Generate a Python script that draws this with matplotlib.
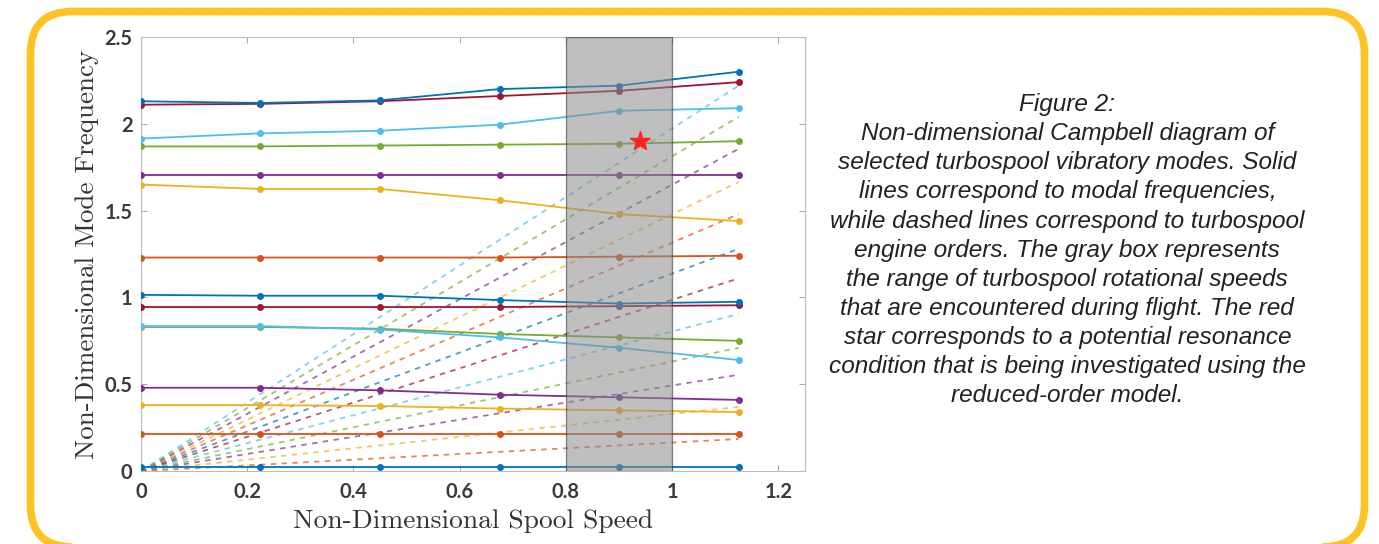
import matplotlib
matplotlib.use('Agg')
import matplotlib.pyplot as plt
from matplotlib.patches import FancyBboxPatch
from matplotlib.ticker import FormatStrFormatter

# spool speeds where modes were computed
speed = [0, 0.225, 0.45, 0.675, 0.9, 1.125]

# modal frequencies, lowest mode first
mode_01 = [0.025, 0.025, 0.025, 0.025, 0.025, 0.025]
mode_02 = [0.215, 0.215, 0.215, 0.215, 0.215, 0.215]
mode_03 = [0.38, 0.38, 0.375, 0.36, 0.35, 0.34]
mode_04 = [0.48, 0.48, 0.465, 0.44, 0.425, 0.41]
mode_05 = [0.83, 0.83, 0.82, 0.79, 0.77, 0.75]
mode_06 = [0.835, 0.835, 0.815, 0.77, 0.71, 0.64]
mode_07 = [0.945, 0.945, 0.945, 0.945, 0.95, 0.955]
mode_08 = [1.015, 1.01, 1.01, 0.985, 0.965, 0.975]
mode_09 = [1.23, 1.23, 1.23, 1.23, 1.235, 1.24]
mode_10 = [1.65, 1.625, 1.625, 1.56, 1.48, 1.44]
mode_11 = [1.705, 1.705, 1.705, 1.705, 1.705, 1.705]
mode_12 = [1.87, 1.87, 1.875, 1.88, 1.885, 1.90]
mode_13 = [1.915, 1.945, 1.96, 1.995, 2.075, 2.09]
mode_14 = [2.11, 2.115, 2.13, 2.16, 2.19, 2.24]
mode_15 = [2.13, 2.12, 2.135, 2.2, 2.22, 2.30]
modes = [mode_01, mode_02, mode_03, mode_04, mode_05, mode_06, mode_07, mode_08,
         mode_09, mode_10, mode_11, mode_12, mode_13, mode_14, mode_15]

# engine order lines 1..12, frequency reached at the last speed
eo_end_speed = 1.125
eo_end_freq = [0.185, 0.37, 0.555, 0.71, 0.905, 1.11, 1.28, 1.48, 1.665, 1.856, 2.04, 2.22]

flight_range = (0.8, 1.0)
resonance = (0.94, 1.90)

caption = ("Figure 2:\n"
           "Non-dimensional Campbell diagram of\n"
           "selected turbospool vibratory modes. Solid\n"
           "lines correspond to modal frequencies,\n"
           "while dashed lines correspond to turbospool\n"
           "engine orders. The gray box represents\n"
           "the range of turbospool rotational speeds\n"
           "that are encountered during flight. The red\n"
           "star corresponds to a potential resonance\n"
           "condition that is being investigated using the\n"
           "reduced-order model.")

matlab = ['#0072BD', '#D95319', '#EDB120', '#7E2F8E', '#77AC30', '#4DBEEE', '#A2142F']

fig = plt.figure(figsize=(13.79, 5.44), dpi=100)
ax = fig.add_axes([0.1022, 0.134, 0.4816, 0.798])

n = 0
for m in modes:
    c = matlab[n % 7]
    ax.plot(speed, m, '-o', color=c, lw=1.3, ms=4, zorder=3)
    n += 1

for f in eo_end_freq:
    c = matlab[n % 7]
    ax.plot([0, eo_end_speed], [0, f], color=c, lw=1.3, ls=(0, (3, 3)), alpha=0.7, zorder=2)
    n += 1

ax.axvspan(*flight_range, facecolor='#8c8c8c', alpha=0.55, edgecolor='#333333', lw=1.0, zorder=4)
ax.plot(*resonance, marker='*', color='#ff2020', ms=15, zorder=5)

ax.set_xlim(0, 1.25)
ax.set_ylim(0, 2.5)
ax.set_xticks([0, 0.2, 0.4, 0.6, 0.8, 1, 1.2])
ax.set_yticks([0, 0.5, 1, 1.5, 2, 2.5])
ax.xaxis.set_major_formatter(FormatStrFormatter('%g'))
ax.yaxis.set_major_formatter(FormatStrFormatter('%g'))
ax.tick_params(direction='in', length=4, width=0.6, color='#999999',
               top=True, right=True, labelsize=14.5, labelcolor='#3a3a3a')
ax.tick_params(axis='x', pad=8)
ax.tick_params(axis='y', pad=6)
for lab in ax.get_xticklabels() + ax.get_yticklabels():
    lab.set_family('Lato')
    lab.set_weight('bold')
for s in ax.spines.values():
    s.set_color('#bbbbbb')
    s.set_linewidth(0.8)

ax.set_xlabel('Non-Dimensional Spool Speed', family='cmr10', fontsize=19.8, color='#333333', labelpad=5)
ax.set_ylabel('Non-Dimensional Mode Frequency', family='cmr10', fontsize=19.5, color='#333333', labelpad=4)

fig.text(0.774, 0.829, caption, ha='center', va='top', family='Liberation Sans',
         style='italic', fontsize=17.6, linespacing=1.34, color='#222222')

border = FancyBboxPatch((30.5, -3), 1334, 535.5, boxstyle='round,pad=0,rounding_size=42',
                        transform=None, facecolor='none', edgecolor='#FDC325', lw=5.5)
fig.add_artist(border)

fig.savefig('out.png', dpi=100)
